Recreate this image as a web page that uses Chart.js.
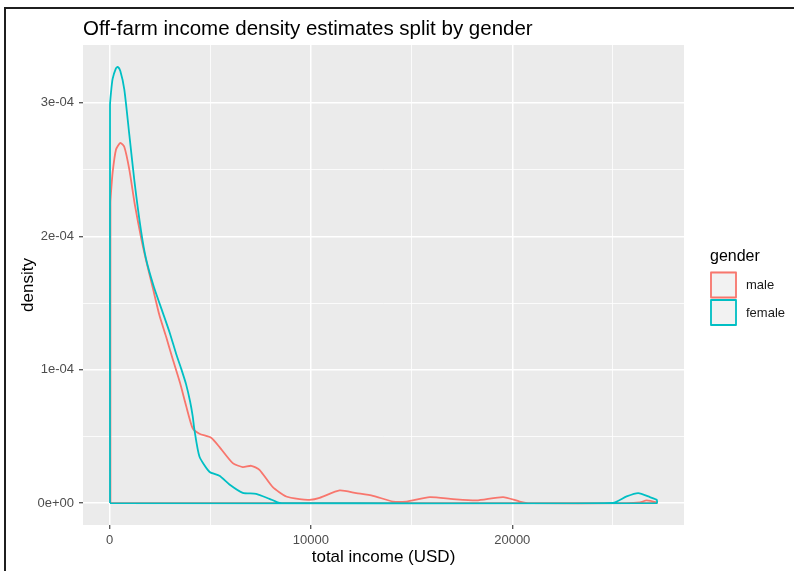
<!DOCTYPE html>
<html>
<head>
<meta charset="utf-8">
<script src="https://cdn.jsdelivr.net/npm/chart.js@4.4.1/dist/chart.umd.min.js"></script>
<style>
  html, body { margin: 0; padding: 0; background: #fff; }
  #wrap { position: relative; width: 794px; height: 571px; overflow: hidden; }
  #frame { position: absolute; left: 4px; top: 7px; width: 900px; height: 700px;
           border-top: 2px solid #1f1f1f; border-left: 2px solid #1f1f1f; pointer-events: none; }
</style>
</head>
<body>
<div id="wrap">
  <canvas id="myChart" width="794" height="571"></canvas>
  <div id="frame"></div>
</div>
<script>
var chartTitle = 'Off-farm income density estimates split by gender';
var xTitle = 'total income (USD)';
var yTitle = 'density';
var legendTitle = 'gender';
var seriesNames = ['male', 'female'];
var seriesColors = ['#F8766D', '#00BFC4'];

var xTickValues = [0, 10000, 20000];
var xTickLabels = ['0', '10000', '20000'];
var xMinorValues = [5000, 15000, 25000];
var yTickValues = [0, 1e-4, 2e-4, 3e-4];
var yTickLabels = ['0e+00', '1e-04', '2e-04', '3e-04'];
var yMinorValues = [0.5e-4, 1.5e-4, 2.5e-4];

// outline of each density polygon (goes along the curve, then back along zero)
var maleIncome = [40, 40, 70, 150, 318, 532, 731, 980, 1250, 1561, 1810, 2150, 2471, 2800, 3133,
  3500, 3799, 4128, 4461, 5043, 5461, 6117, 6614, 7032, 7444, 8106, 8772, 9434, 9931, 10429,
  11423, 12254, 13079, 14074, 14740, 15900, 17057, 18221, 19544, 20374, 20872, 25650, 26340,
  26675, 27173, 27173, 40];
var maleDensity = [0, 2.25e-4, 2.33e-4, 2.48e-4, 2.65e-4, 2.70e-4, 2.67e-4, 2.50e-4, 2.24e-4,
  1.99e-4, 1.82e-4, 1.61e-4, 1.41e-4, 1.25e-4, 1.08e-4, 0.90e-4, 0.73e-4, 0.56e-4, 0.52e-4,
  0.49e-4, 0.42e-4, 0.30e-4, 0.27e-4, 0.28e-4, 0.25e-4, 0.12e-4, 0.05e-4, 0.03e-4, 0.025e-4,
  0.04e-4, 0.095e-4, 0.075e-4, 0.055e-4, 0.012e-4, 0.012e-4, 0.045e-4, 0.03e-4, 0.02e-4,
  0.045e-4, 0.012e-4, 0, 0, 0.006e-4, 0.02e-4, 0.005e-4, 0, 0];

var femaleIncome = [20, 20, 70, 149, 318, 398, 532, 731, 980, 1228, 1561, 1810, 2200, 2636, 3000,
  3302, 3550, 3799, 4000, 4128, 4212, 4461, 4958, 5455, 5953, 6614, 7280, 7942, 8439, 8936,
  25000, 25680, 26257, 26839, 27173, 27173, 20];
var femaleDensity = [0, 2.98e-4, 3.08e-4, 3.18e-4, 3.26e-4, 3.27e-4, 3.24e-4, 3.10e-4, 2.76e-4,
  2.42e-4, 2.04e-4, 1.83e-4, 1.62e-4, 1.43e-4, 1.27e-4, 1.12e-4, 1.01e-4, 0.89e-4, 0.76e-4,
  0.65e-4, 0.55e-4, 0.35e-4, 0.235e-4, 0.205e-4, 0.14e-4, 0.077e-4, 0.07e-4, 0.032e-4, 0.002e-4,
  0, 0.002e-4, 0.05e-4, 0.075e-4, 0.045e-4, 0.025e-4, 0, 0];

function toPoints(xs, ys) {
  return xs.map(function (x, i) { return { x: x, y: ys[i] }; });
}
function findIn(list, v) {
  for (var i = 0; i < list.length; i++) {
    if (Math.abs(list[i] - v) < 1e-12 + 1e-6 * Math.abs(list[i])) return i;
  }
  return -1;
}

Chart.defaults.font.family = "'Liberation Sans', Arial, sans-serif";

var ggDecor = {
  id: 'ggDecor',
  beforeDraw: function (chart) {
    var a = chart.chartArea, c = chart.ctx;
    c.save();
    c.fillStyle = '#EBEBEB';
    c.fillRect(a.left, a.top, a.right - a.left, a.bottom - a.top);
    c.restore();
  },
  afterDraw: function (chart) {
    var a = chart.chartArea, c = chart.ctx;
    var fam = "'Liberation Sans', Arial, sans-serif";
    c.save();
    c.fillStyle = '#000';
    c.textAlign = 'left';
    c.textBaseline = 'alphabetic';
    c.font = '20.5px ' + fam;
    c.fillText(chartTitle, a.left, 35);

    c.textBaseline = 'middle';
    c.font = '16px ' + fam;
    c.fillText(legendTitle, 710, 257);
    chart.data.datasets.forEach(function (ds, i) {
      var top = 271.5 + i * 27.5;
      c.fillStyle = '#F2F2F2';
      c.fillRect(710, top, 27, 27);
      c.strokeStyle = ds.borderColor;
      c.lineWidth = 1.8;
      c.lineJoin = 'round';
      c.strokeRect(711, top + 1, 25, 25);
      c.fillStyle = '#1A1A1A';
      c.font = '13px ' + fam;
      c.fillText(ds.label, 746, top + 14);
    });
    c.restore();
  }
};

var ctx = document.getElementById('myChart').getContext('2d');
var myChart = new Chart(ctx, {
  type: 'scatter',
  data: {
    datasets: [{
      label: seriesNames[0],
      data: toPoints(maleIncome, maleDensity),
      borderColor: seriesColors[0],
      borderWidth: 1.8,
      showLine: true,
      tension: 0.2,
      fill: false,
      pointRadius: 0,
      pointHitRadius: 0,
      borderJoinStyle: 'round',
      order: 1
    }, {
      label: seriesNames[1],
      data: toPoints(femaleIncome, femaleDensity),
      borderColor: seriesColors[1],
      borderWidth: 1.8,
      showLine: true,
      tension: 0.2,
      fill: false,
      pointRadius: 0,
      pointHitRadius: 0,
      borderJoinStyle: 'round',
      order: 0
    }]
  },
  options: {
    responsive: false,
    animation: false,
    devicePixelRatio: 1,
    layout: { padding: { top: 45, right: 110, left: 0, bottom: 0 } },
    plugins: {
      legend: { display: false },
      tooltip: { enabled: false },
      title: { display: false }
    },
    scales: {
      x: {
        type: 'linear',
        min: -1322,
        max: 28530,
        afterBuildTicks: function (s) {
          s.ticks = xTickValues.concat(xMinorValues).sort(function (p, q) { return p - q; })
            .map(function (v) { return { value: v }; });
        },
        afterFit: function (s) { s.height = 46; },
        border: { display: false },
        grid: {
          color: '#FFFFFF',
          lineWidth: function (c) { return findIn(xTickValues, c.tick.value) >= 0 ? 1.5 : 0.8; },
          tickColor: function (c) { return findIn(xTickValues, c.tick.value) >= 0 ? '#333333' : 'rgba(0,0,0,0)'; },
          tickWidth: 1.1,
          tickLength: 4,
          drawTicks: true
        },
        ticks: {
          autoSkip: false,
          maxRotation: 0,
          padding: 4,
          color: '#4D4D4D',
          font: { size: 13 },
          callback: function (v) {
            var i = findIn(xTickValues, v);
            return i >= 0 ? xTickLabels[i] : '';
          }
        },
        title: {
          display: true,
          text: xTitle,
          color: '#000000',
          font: { size: 17 },
          padding: { top: 0, bottom: 3 }
        }
      },
      y: {
        type: 'linear',
        min: -1.64e-5,
        max: 3.434e-4,
        afterBuildTicks: function (s) {
          s.ticks = yTickValues.concat(yMinorValues).sort(function (p, q) { return p - q; })
            .map(function (v) { return { value: v }; });
        },
        afterFit: function (s) { s.width = 83; },
        border: { display: false },
        grid: {
          color: '#FFFFFF',
          lineWidth: function (c) { return findIn(yTickValues, c.tick.value) >= 0 ? 1.5 : 0.8; },
          tickColor: function (c) { return findIn(yTickValues, c.tick.value) >= 0 ? '#333333' : 'rgba(0,0,0,0)'; },
          tickWidth: 1.1,
          tickLength: 4,
          drawTicks: true
        },
        ticks: {
          autoSkip: false,
          padding: 5,
          color: '#4D4D4D',
          font: { size: 13 },
          callback: function (v) {
            var i = findIn(yTickValues, v);
            return i >= 0 ? yTickLabels[i] : '';
          }
        },
        title: {
          display: true,
          text: yTitle,
          color: '#000000',
          font: { size: 17 },
          padding: { top: 18, bottom: 0 }
        }
      }
    }
  },
  plugins: [ggDecor]
});
</script>
</body>
</html>
